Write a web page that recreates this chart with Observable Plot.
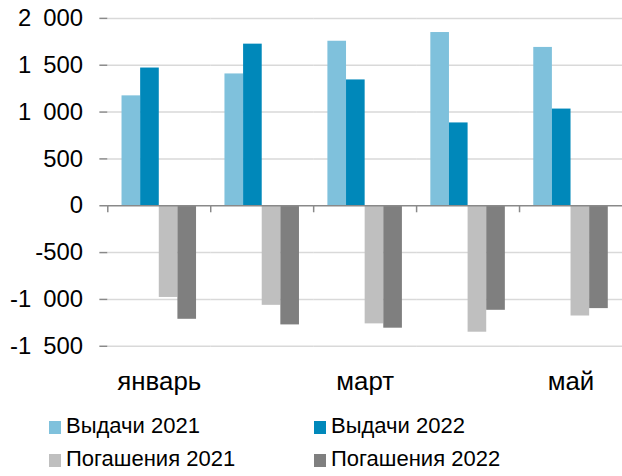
<!DOCTYPE html>
<html>
<head>
<meta charset="utf-8">
<script src="https://cdn.jsdelivr.net/npm/d3@7"></script>
<script src="https://cdn.jsdelivr.net/npm/@observablehq/plot@0.6"></script>
<style>
  html, body { margin: 0; padding: 0; background: #fff; }
  body { width: 622px; height: 476px; position: relative; overflow: hidden; font-family: Arial, "Liberation Sans", sans-serif; }
  #chart { position: absolute; left: 0; top: 0; }
  #legend { position: absolute; left: 0; top: 410px; width: 622px; font-size: 22px; line-height: 32.5px; color: #000; }
  .item { position: absolute; white-space: nowrap; }
  .sw { display: inline-block; width: 12px; height: 13px; margin-right: 5px; vertical-align: -1px; }
</style>
</head>
<body>
<div id="chart"></div>
<div id="legend"></div>
<script>
const months = ["январь", "февраль", "март", "апрель", "май"];
const monthTickLabels = ["январь", "", "март", "", "май"];
const series = ["Выдачи 2021", "Выдачи 2022", "Погашения 2021", "Погашения 2022"];
const vydachi2021 = [1173, 1407, 1756, 1849, 1690];
const vydachi2022 = [1470, 1725, 1343, 884, 1032];
const pogasheniya2021 = [-979, -1063, -1261, -1350, -1177];
const pogasheniya2022 = [-1212, -1272, -1307, -1116, -1098];
const yTicks = [-1500, -1000, -500, 0, 500, 1000, 1500, 2000];
const colors = ["#7fc1dc", "#0088ba", "#bfbfbf", "#7f7f7f"];

const seriesValues = [vydachi2021, vydachi2022, pogasheniya2021, pogasheniya2022];
const rows = months.flatMap((m, i) => series.map((s, j) => ({month: m, series: s, value: seriesValues[j][i]})));

const fmt = d => {
  const a = Math.abs(d);
  const s = a >= 1000 ? Math.floor(a / 1000) + "\u2002" + String(a % 1000).padStart(3, "0") : String(a);
  return (d < 0 ? "-" : "") + s;
};

const chart = Plot.plot({
  width: 626,
  height: 400,
  marginLeft: 108,
  marginRight: 0,
  marginTop: 18,
  marginBottom: 52,
  style: {fontFamily: "Arial, 'Liberation Sans', sans-serif", fontSize: "24px", color: "#000", background: "#fff"},
  fx: {domain: months, padding: 0, round: false, label: null},
  x: {domain: series, paddingInner: 0, paddingOuter: 0.763, round: false, axis: null},
  y: {domain: [-1500, 2000]},
  color: {domain: series, range: colors},
  marks: [
    Plot.ruleY(yTicks.filter(d => d !== 0), {stroke: "#d9d9d9", strokeWidth: 1.5}),
    Plot.barY(rows, {fx: "month", x: "series", y: "value", fill: "series"}),
    Plot.ruleY([0], {stroke: "#898989", strokeWidth: 1.5}),
    Plot.ruleX(months, {fx: d => d, x: () => series[0], y1: 0, y2: -75, dx: -23.7, stroke: "#898989", strokeWidth: 1.5}),
    Plot.axisY({ticks: yTicks, tickFormat: fmt, tickSize: 8, tickPadding: 17, stroke: "#898989", strokeWidth: 1.5, fill: "#000", label: null, line: true}),
    Plot.axisFx({anchor: "bottom", tickSize: 0, tickPadding: 26, fontSize: 26, tickFormat: d => monthTickLabels[months.indexOf(d)], label: null, fill: "#000"})
  ]
});
document.getElementById("chart").appendChild(chart);

const legend = document.getElementById("legend");
const pos = [[49, 0], [314, 0], [49, 32.5], [314, 32.5]];
series.forEach((s, i) => {
  const it = document.createElement("div");
  it.className = "item";
  it.style.left = pos[i][0] + "px";
  it.style.top = pos[i][1] + "px";
  const sw = document.createElement("span");
  sw.className = "sw";
  sw.style.background = colors[i];
  it.appendChild(sw);
  it.appendChild(document.createTextNode(s));
  legend.appendChild(it);
});
</script>
</body>
</html>
